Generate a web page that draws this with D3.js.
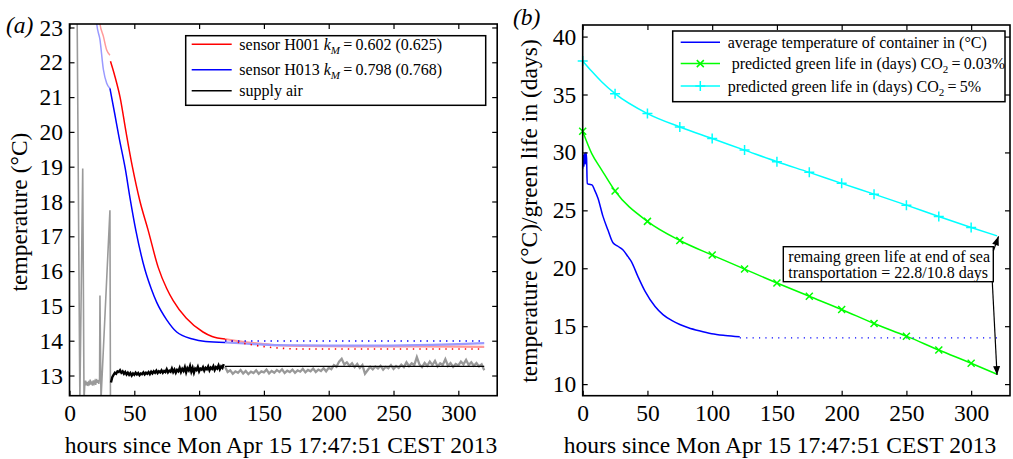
<!DOCTYPE html>
<html><head><meta charset="utf-8">
<script src="https://cdn.jsdelivr.net/npm/d3@7"></script>
<style>
body{margin:0;background:#fff;}
svg{display:block;font-family:"Liberation Serif","Times New Roman",serif;}
</style></head><body>
<svg id="c" width="1013" height="459"></svg>
<script>
// ---------- DATA ----------
const xTicks = [0, 50, 100, 150, 200, 250, 300];
const yTicksA = [13, 14, 15, 16, 17, 18, 19, 20, 21, 22, 23];
const yTicksB = [10, 15, 20, 25, 30, 35, 40];
const xLabel = "hours since Mon Apr 15 17:47:51 CEST 2013";
const yLabelA = "temperature (°C)";
const yLabelB = "temperature (°C)/green life in (days)";

// panel (a) sensor H001 (red): measured before fit window, fit window, measured after, model after
const h001Pre = [[22.5,23.4],[23.5,23.1],[26.1,22.75],[28.7,22.35],[31.2,22.2]];
const h001Fit = [[31.6,22.03],[35,21.6],[39,21.0],[43.6,20.0],[48.5,19.0],[54.4,18.0],[60.5,17.2],[68.5,16.1],[75,15.5],[80,15.15],[90,14.65],[103,14.25],[110,14.12],[120,14.05]];
const h001Post = [[120,14.05],[130,13.99],[140,13.94],[150,13.9],[160,13.87],[180,13.85],[220,13.84],[260,13.84],[300,13.83],[320,13.82]];
const h001Model = [[120,14.03],[135,13.92],[150,13.83],[165,13.78],[180,13.76],[320,13.76]];

// sensor H013 (blue)
const h013Pre = [[20,23.5],[21,23.1],[23.5,22.65],[26.1,21.8],[28.7,21.4],[31.2,21.25]];
const h013Fit = [[31.2,21.25],[35,20.5],[38.2,19.85],[43,18.95],[46.7,18.1],[51.3,17.15],[58.3,16.03],[63,15.5],[67.3,15.1],[75,14.6],[82.7,14.25],[95,14.05],[105,13.98],[120,13.95]];
const h013Post = [[120,13.95],[135,13.92],[150,13.89],[170,13.87],[200,13.86],[240,13.86],[280,13.88],[300,13.9],[320,13.93]];
const h013Model = [[120,13.99],[320,13.99]];

// supply air: raw (grey) before fit window
const supplyEarly = [[5.9,23.3],[8.0,12.3],[10.2,18.95],[11.2,12.3],[11.8,12.75],[12.4,12.85],[13.0,12.72],[13.6,12.82],[14.2,12.7],[14.8,12.8],[15.4,12.76],[16.0,12.88],[16.6,12.74],[17.2,12.83],[17.8,12.71],[18.4,12.86],[19.0,12.77],[19.6,12.84],[20.2,12.73],[20.8,12.9],[21.4,12.79],[22.0,12.87],[22.6,12.76],[23.2,12.92],[23.5,15.3],[24.3,12.3],[31.2,17.75],[31.6,12.3]];
// supply air used in fit (black), hours 32..119
const supplyFitT = d3.range(32, 120);
const supplyFitV = [12.80,12.95,13.02,13.08,13.05,13.12,13.10,13.15,13.08,13.12,13.05,13.10,13.03,13.08,13.02,13.07,13.00,13.06,13.02,13.08,13.03,13.07,13.01,13.06,13.04,13.09,13.03,13.08,13.05,13.10,13.04,13.11,13.06,13.12,13.08,13.14,13.07,13.12,13.09,13.15,13.08,13.13,13.10,13.18,13.09,13.14,13.11,13.20,13.10,13.17,13.08,13.16,13.12,13.22,13.10,13.19,13.13,13.24,13.09,13.21,13.15,13.27,13.11,13.22,13.08,13.20,13.16,13.25,13.12,13.20,13.17,13.24,13.14,13.22,13.18,13.26,13.15,13.23,13.19,13.27,13.16,13.24,13.20,13.29,13.18,13.26,13.22,13.33];
// supply air measured after fit window (grey), hours 120..320 step 2
const supplyLateT = d3.range(120, 321, 2);
const supplyLateV = [13.25,13.10,13.15,13.05,13.12,13.08,13.16,13.06,13.13,13.04,13.11,13.07,13.15,13.05,13.12,13.09,13.17,13.06,13.13,13.08,13.16,13.10,13.18,13.07,13.14,13.10,13.17,13.08,13.15,13.11,13.19,13.09,13.16,13.12,13.20,13.10,13.17,13.13,13.21,13.12,13.22,13.18,13.30,13.25,13.40,13.48,13.32,13.38,13.28,13.35,13.24,13.33,13.22,13.30,13.05,13.15,13.25,13.18,13.26,13.20,13.28,13.17,13.25,13.21,13.30,13.19,13.27,13.22,13.31,13.24,13.38,13.27,13.35,13.30,13.53,13.32,13.24,13.36,13.28,13.40,13.30,13.42,13.26,13.35,13.30,13.47,13.28,13.36,13.25,13.33,13.29,13.40,13.32,13.45,13.30,13.38,13.28,13.36,13.26,13.32,13.15];
// constant supply air assumed for prediction
const supplyConst = [[120,13.26],[320,13.26]];

// panel (b)
const avgTemp = [[0,28.6],[0.5,29.8],[1,28.8],[1.5,29.9],[2,29.0],[2.5,30.0],[3,29.5],[3.5,27.3],[5,27.25],[7.2,27.2],[9,26.8],[11.8,26.05],[15.6,24.5],[19.5,23.3],[23.4,22.2],[27.2,21.9],[31,21.6],[35,21.0],[37.5,20.6],[42.6,19.3],[48.2,18.0],[55.9,16.7],[62,16.0],[68.7,15.5],[75,15.15],[81.6,14.87],[90,14.6],[99.6,14.35],[110,14.2],[121.3,14.09]];
const avgTempPred = [[121.3,14.0],[320,14.0]];
const greenT = [0,7,14.6,25,50,75,100,125,150,175,200,225,250,275,300,320];
const greenLow = [31.83,29.9,28.5,26.67,24.05,22.4,21.14,19.93,18.73,17.58,16.44,15.23,14.14,12.94,11.8,10.85];
const greenHigh = [37.9,37.0,36.1,35.07,33.35,32.2,31.2,30.2,29.2,28.28,27.33,26.4,25.45,24.47,23.52,22.8];
const markerT = [0,25,50,75,100,125,150,175,200,225,250,275,300];

const legendA = ["sensor H001", "sensor H013", "supply air"];
const kA = ["0.602 (0.625)", "0.798 (0.768)"];
const legendB = ["average temperature of container in (°C)", " predicted green life in (days) CO", "predicted green life in (days) CO"];
const co2 = ["0.03%", "5%"];
const annot = ["remaing green life at end of sea", "transportation = 22.8/10.8 days"];

// ---------- DRAW ----------
const svg = d3.select("#c");
const FS = 23.5;

function frame(g, x, y, yt, x0, x1, y0, y1) {
  g.append("g").attr("transform", `translate(0,${y0})`)
    .call(d3.axisBottom(x).tickValues(xTicks).tickSize(-5).tickSizeOuter(0).tickPadding(9))
    .call(a => a.select(".domain").remove());
  g.append("g").attr("transform", `translate(0,${y1})`)
    .call(d3.axisTop(x).tickValues(xTicks).tickSize(-5).tickSizeOuter(0).tickFormat(""))
    .call(a => a.select(".domain").remove());
  g.append("g").attr("transform", `translate(${x0},0)`)
    .call(d3.axisLeft(y).tickValues(yt).tickSize(-5).tickSizeOuter(0).tickPadding(6.5))
    .call(a => a.select(".domain").remove());
  g.append("g").attr("transform", `translate(${x1},0)`)
    .call(d3.axisRight(y).tickValues(yt).tickSize(-5).tickSizeOuter(0).tickFormat(""))
    .call(a => a.select(".domain").remove());
  g.selectAll(".tick line").attr("stroke", "#000").attr("stroke-width", 1.2);
  g.selectAll(".tick text").attr("font-size", FS).attr("font-family", "Liberation Serif").attr("fill", "#000");
  g.append("rect").attr("x", x0).attr("y", y1).attr("width", x1 - x0).attr("height", y0 - y1)
    .attr("fill", "none").attr("stroke", "#000").attr("stroke-width", 1.6);
}

// ---- panel (a)
const ax = d3.scaleLinear([0, 330], [69.5, 497.2]);
const ay = d3.scaleLinear([12.42, 23.1], [395.7, 24]);
const ga = svg.append("g");
svg.append("defs").append("clipPath").attr("id", "clipA").append("rect")
  .attr("x", 69.5).attr("y", 24).attr("width", 497.2 - 69.5).attr("height", 395.7 - 24);
const la = d3.line().x(d => ax(d[0])).y(d => ay(d[1])).curve(d3.curveMonotoneX);
const laLin = d3.line().x(d => ax(d[0])).y(d => ay(d[1]));
const pa = ga.append("g").attr("clip-path", "url(#clipA)");

pa.append("path").attr("d", laLin(supplyEarly)).attr("fill", "none").attr("stroke", "#9a9a9a").attr("stroke-width", 1.6);
pa.append("path").attr("d", laLin(supplyLateT.map((t, i) => [t, supplyLateV[i]]))).attr("fill", "none").attr("stroke", "#999").attr("stroke-width", 2.3);
pa.append("path").attr("d", laLin(supplyFitT.map((t, i) => [t, supplyFitV[i]]))).attr("fill", "none").attr("stroke", "#000").attr("stroke-width", 2.4);
pa.append("path").attr("d", laLin(supplyConst)).attr("fill", "none").attr("stroke", "#000").attr("stroke-width", 1.3);

pa.append("path").attr("d", la(h001Post)).attr("fill", "none").attr("stroke", "#ff9a9a").attr("stroke-width", 2.2);
pa.append("path").attr("d", la(h013Post)).attr("fill", "none").attr("stroke", "#9a9aff").attr("stroke-width", 2.2);
pa.append("path").attr("d", la(h001Model)).attr("fill", "none").attr("stroke", "#ff0000").attr("stroke-width", 1.6).attr("stroke-dasharray", "1.4 5.1");
pa.append("path").attr("d", la(h013Model)).attr("fill", "none").attr("stroke", "#0000ff").attr("stroke-width", 1.6).attr("stroke-dasharray", "1.4 5.1");
pa.append("path").attr("d", la(h001Pre)).attr("fill", "none").attr("stroke", "#ff9a9a").attr("stroke-width", 1.5);
pa.append("path").attr("d", la(h013Pre)).attr("fill", "none").attr("stroke", "#9a9aff").attr("stroke-width", 1.5);
pa.append("path").attr("d", la(h001Fit)).attr("fill", "none").attr("stroke", "#ff0000").attr("stroke-width", 1.5);
pa.append("path").attr("d", la(h013Fit)).attr("fill", "none").attr("stroke", "#0000ff").attr("stroke-width", 1.5);

frame(ga, ax, ay, yTicksA, 69.5, 497.2, 395.7, 24);

// legend (a)
const lgA = ga.append("g");
lgA.append("rect").attr("x", 185.7).attr("y", 35.7).attr("width", 300).attr("height", 69.6)
  .attr("fill", "#fff").attr("stroke", "#000").attr("stroke-width", 1.5);
const legColA = ["#ff0000", "#0000ff", "#000"];
const legYA = [44.3, 69.7, 90.7];
legendA.forEach((s, i) => {
  lgA.append("line").attr("x1", 191.7).attr("x2", 231.7).attr("y1", legYA[i]).attr("y2", legYA[i])
    .attr("stroke", legColA[i]).attr("stroke-width", 1.5);
  const t = lgA.append("text").attr("x", 239.3).attr("y", legYA[i] + 5.5).attr("font-size", 16).attr("fill", "#000");
  t.append("tspan").text(s + (i < 2 ? " " : ""));
  if (i < 2) {
    t.append("tspan").attr("font-style", "italic").text("k");
    t.append("tspan").attr("font-style", "italic").attr("font-size", 11).attr("dy", 4).text("M");
    t.append("tspan").attr("dy", -4).text("\u2009=\u2009" + kA[i]);
  }
});

ga.append("text").attr("transform", "translate(27,212) rotate(-90)").attr("text-anchor", "middle")
  .attr("font-size", FS).text(yLabelA);
ga.append("text").attr("x", 281).attr("y", 452.5).attr("text-anchor", "middle").attr("font-size", FS).text(xLabel);
ga.append("text").attr("x", 6).attr("y", 33).attr("font-size", FS).attr("font-style", "italic").text("(a)");

// ---- panel (b)
const bx = d3.scaleLinear([0, 330], [582.7, 1010]);
const by = d3.scaleLinear([9, 41], [395.7, 25]);
const gb = svg.append("g");
const lb = d3.line().x(d => bx(d[0])).y(d => by(d[1])).curve(d3.curveMonotoneX);
const lbLin = d3.line().x(d => bx(d[0])).y(d => by(d[1]));

const gLow = greenT.map((t, i) => [t, greenLow[i]]);
const gHigh = greenT.map((t, i) => [t, greenHigh[i]]);
gb.append("path").attr("d", lb(gHigh)).attr("fill", "none").attr("stroke", "#00ffff").attr("stroke-width", 1.5);
gb.append("path").attr("d", lb(gLow)).attr("fill", "none").attr("stroke", "#00ff00").attr("stroke-width", 1.5);
gb.append("path").attr("d", lbLin(avgTempPred)).attr("fill", "none").attr("stroke", "#0000ff").attr("stroke-width", 1.3).attr("stroke-dasharray", "1.2 5.2");
gb.append("path").attr("d", lb(avgTemp)).attr("fill", "none").attr("stroke", "#0000ff").attr("stroke-width", 1.5);

function xMark(g, cx, cy, col, r) {
  g.append("path").attr("d", `M${cx - r},${cy - r}L${cx + r},${cy + r}M${cx - r},${cy + r}L${cx + r},${cy - r}`)
    .attr("stroke", col).attr("stroke-width", 1.5).attr("fill", "none");
}
function pMark(g, cx, cy, col, r) {
  g.append("path").attr("d", `M${cx - r},${cy}L${cx + r},${cy}M${cx},${cy - r}L${cx},${cy + r}`)
    .attr("stroke", col).attr("stroke-width", 1.5).attr("fill", "none");
}
markerT.forEach(t => {
  const i = greenT.indexOf(t);
  xMark(gb, bx(t), by(greenLow[i]), "#00ff00", 3.5);
  pMark(gb, bx(t), by(greenHigh[i]), "#00ffff", 5);
});

frame(gb, bx, by, yTicksB, 582.7, 1010, 395.7, 25);

// legend (b)
const lgB = gb.append("g");
lgB.append("rect").attr("x", 672.7).attr("y", 31).attr("width", 332.3).attr("height", 70.7)
  .attr("fill", "#fff").attr("stroke", "#000").attr("stroke-width", 1.5);
const legColB = ["#0000ff", "#00ff00", "#00ffff"];
const legYB = [42.3, 63.6, 86];
legendB.forEach((s, i) => {
  lgB.append("line").attr("x1", 680.7).attr("x2", 720).attr("y1", legYB[i]).attr("y2", legYB[i])
    .attr("stroke", legColB[i]).attr("stroke-width", 1.5);
  if (i === 1) xMark(lgB, 700.3, legYB[i], legColB[i], 3.5);
  if (i === 2) pMark(lgB, 700.3, legYB[i], legColB[i], 5);
  const t = lgB.append("text").attr("x", 727.7).attr("y", legYB[i] + 5.5).attr("font-size", 16).attr("fill", "#000")
    .attr("xml:space", "preserve").style("white-space", "pre");
  t.append("tspan").text(s);
  if (i > 0) {
    t.append("tspan").attr("font-size", 11).attr("dy", 4).text("2");
    t.append("tspan").attr("dy", -4).text("\u2009=\u2009" + co2[i - 1]);
  }
});

// annotation
const an = gb.append("g");
an.append("rect").attr("x", 783.3).attr("y", 246.7).attr("width", 210).attr("height", 35)
  .attr("fill", "#fff").attr("stroke", "#000").attr("stroke-width", 1.4);
an.append("text").attr("x", 788.3).attr("y", 261.5).attr("font-size", 16).text(annot[0]);
an.append("text").attr("x", 788.3).attr("y", 277.5).attr("font-size", 16).text(annot[1]);
function arrow(g, x0, y0, x1, y1) {
  g.append("line").attr("x1", x0).attr("y1", y0).attr("x2", x1).attr("y2", y1).attr("stroke", "#000").attr("stroke-width", 1.2);
  const a = Math.atan2(y1 - y0, x1 - x0), L = 9, W = 3.5;
  const bxp = x1 - L * Math.cos(a), byp = y1 - L * Math.sin(a);
  const px = -Math.sin(a) * W, py = Math.cos(a) * W;
  g.append("path").attr("d", `M${x1},${y1}L${bxp + px},${byp + py}L${bxp - px},${byp - py}Z`).attr("fill", "#000");
}
arrow(an, 993.3, 251, bx(320) + 1.5, by(greenHigh[greenHigh.length - 1]) + 0.5);
arrow(an, 992.3, 282, bx(320), by(greenLow[greenLow.length - 1]) + 0.8);

gb.append("text").attr("transform", "translate(536.5,211) rotate(-90)").attr("text-anchor", "middle")
  .attr("font-size", FS).text(yLabelB);
gb.append("text").attr("x", 780).attr("y", 452.5).attr("text-anchor", "middle").attr("font-size", FS).text(xLabel);
gb.append("text").attr("x", 513).attr("y", 24.5).attr("font-size", FS).attr("font-style", "italic").text("(b)");
</script></body></html>
